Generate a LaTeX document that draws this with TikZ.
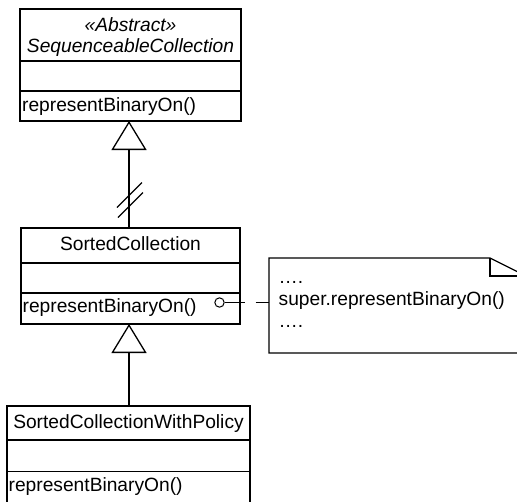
\documentclass[tikz,border=0pt]{standalone}
\usepackage{fontspec}
\setmainfont{Liberation Sans}
\usetikzlibrary{arrows.meta,calc}
\begin{document}
\begin{tikzpicture}[x=1pt,y=-1pt,line width=1.3pt,
  classbox/.style={draw, rectangle, inner sep=0pt, outer sep=0pt, anchor=north west},
  txt/.style={inner sep=0pt, font=\fontsize{19.2}{23}\selectfont},
  itxt/.style={inner sep=0pt, font=\fontsize{19.2}{23}\selectfont\itshape},
  inherit/.style={-{Triangle[open,length=29pt,width=35pt]}},
  linkline/.style={dash pattern=on 20pt off 11pt on 60pt}]
\clip (0,0) rectangle (517,501);
\useasboundingbox (0,0) rectangle (517,501);
% class 1
\node[classbox, minimum width=221pt, minimum height=112pt] (c1) at (20,9) {};
\draw (20,61) -- (241,61);
\draw (20,91) -- (241,91);
\node[itxt, anchor=base] (c1s) at (130.5,31.5) {«Abstract»};
\node[itxt, anchor=base] (c1n) at (130.5,52.5) {SequenceableCollection};
\node[txt, anchor=base west] (c1m) at (21.5,111.5) {representBinaryOn()};
% class 2
\node[classbox, minimum width=219pt, minimum height=96pt] (c2) at (21,228) {};
\draw (21,263) -- (240,263);
\draw (21,293) -- (240,293);
\node[txt, anchor=base] (c2n) at (130.5,250.5) {SortedCollection};
\node[txt, anchor=base west] (c2m) at (22,312.5) {representBinaryOn()};
% class 3 (cut off at the bottom edge)
\node[classbox, minimum width=243pt, minimum height=100pt] (c3) at (7,406) {};
\draw (7,440) -- (250,440);
\draw (7,471.5) -- (250,471.5);
\node[txt, anchor=base] (c3n) at (128.5,428.5) {SortedCollectionWithPolicy};
\node[txt, anchor=base west] (c3m) at (8,491) {representBinaryOn()};
% generalizations
\draw[inherit] (c2.north -| 129,0) -- (c1.south -| 129,0);
\draw[inherit] (c3.north -| 129,0) -- (c2.south -| 129,0);
% double slash
\draw (117,207.5) -- (142,182.5);
\draw (118,217.5) -- (143,192.5);
% note
\node[inner sep=0pt, outer sep=0pt, minimum width=257pt, minimum height=95pt, anchor=north west] (note) at (269,258) {};
\draw (269,258) -- (490,258) -- (526,276) -- (526,353) -- (269,353) -- cycle;
\draw (490,258) -- (490,276) -- (526,276);
\node[txt, anchor=base west] (n1) at (278,283) {….};
\node[txt, anchor=base west] (n2) at (278,305) {super.representBinaryOn()};
\node[txt, anchor=base west] (n3) at (278,327) {….};
% link
\node[draw, circle, minimum size=9.4pt, inner sep=0pt, line width=1pt] (o) at (219.5,302.5) {};
\draw[linkline] (o.east) -- (o.east -| note.west);
\end{tikzpicture}
\end{document}
